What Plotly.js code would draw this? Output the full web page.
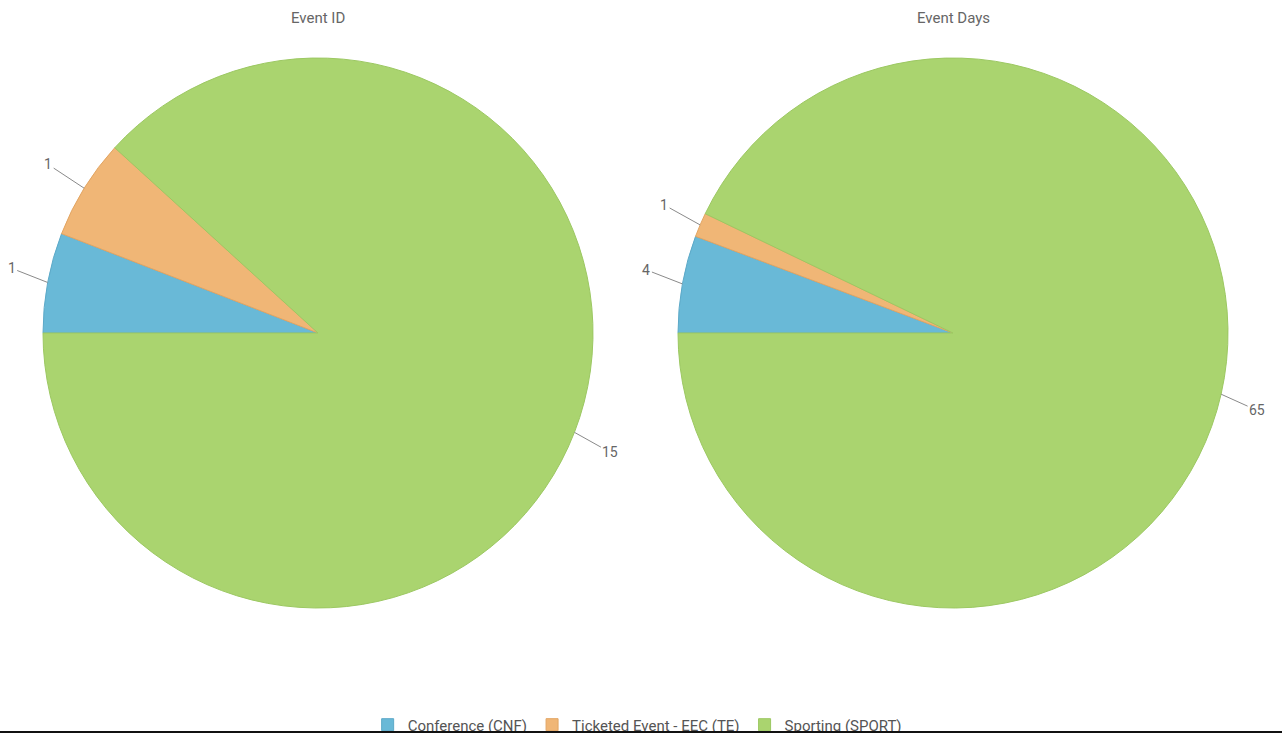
<!DOCTYPE html>
<html>
<head>
<meta charset="utf-8">
<script src="https://cdn.plot.ly/plotly-3.0.1.min.js"></script>
<style>
html,body{margin:0;padding:0;background:#fff;overflow:hidden;}
#wrap{position:relative;width:1282px;height:733px;}
#chart{width:1282px;height:733px;}
#bar{position:absolute;left:0;bottom:0;width:1282px;height:2px;background:#111;}
</style>
</head>
<body>
<div id="wrap"><div id="chart"></div><div id="bar"></div></div>
<script>
// ---- data ----
const categories = ["Conference (CNF)", "Ticketed Event - EEC (TE)", "Sporting (SPORT)"];
const eventIdValues = [1, 1, 15];
const eventDaysValues = [4, 1, 65];
const chartTitles = ["Event ID", "Event Days"];

// ---- style ----
const W = 1282, H = 733;
const colors = ["#69b9d7", "#f0b676", "#aad46f"];
const lineColors = ["#5ca9c8", "#e2a563", "#9cc862"];
const font = "Roboto, 'Open Sans', sans-serif";

// domains in pixel space -> paper
function dom(x0, x1, y0, y1) {
  return { x: [x0 / W, x1 / W], y: [1 - y1 / H, 1 - y0 / H] };
}
const domains = [dom(43, 593, 58, 608), dom(678, 1228, 58, 608)];
const seriesList = [eventIdValues, eventDaysValues];

const traces = seriesList.map((vals, i) => ({
  type: "pie",
  labels: categories,
  values: vals,
  sort: false,
  direction: "clockwise",
  rotation: -90,
  textinfo: "none",
  hoverinfo: "label+value",
  marker: { colors: colors, line: { color: lineColors, width: 1 } },
  domain: domains[i],
  title: { text: "" },
  showlegend: i === 0
}));

// labels with connector lines, computed from values and pie geometry
const annotations = [];
seriesList.forEach((vals, i) => {
  const d = domains[i];
  const cx = (d.x[0] + d.x[1]) / 2 * W;
  const cy = (1 - (d.y[0] + d.y[1]) / 2) * H;
  const r = Math.min((d.x[1] - d.x[0]) * W, (d.y[1] - d.y[0]) * H) / 2;
  const total = vals.reduce((a, b) => a + b, 0);
  let cum = 0;
  vals.forEach((v) => {
    const mid = (cum + v / 2) / total * 2 * Math.PI; // clockwise from 9 o'clock
    cum += v;
    const ang = Math.PI + mid;
    const dx = Math.cos(ang), dy = Math.sin(ang);
    const tx = cx + r * dx, ty = cy + r * dy;
    const ax = (dx >= 0 ? 1 : -1) * 36;
    const ay = dy * 28 + (dy >= 0 ? 10 : -9);
    annotations.push({
      x: tx / W, y: 1 - ty / H, xref: "paper", yref: "paper",
      ax: ax, ay: ay, text: String(v),
      showarrow: true, arrowhead: 0, arrowwidth: 1, arrowcolor: "#8a8a8a",
      standoff: 0, startstandoff: 0,
      font: { family: font, size: 14, color: "#666666" },
      xanchor: "center", yanchor: "middle"
    });
  });
  annotations.push({
    x: cx / W, y: 1 - 18 / H, xref: "paper", yref: "paper",
    text: chartTitles[i], showarrow: false,
    font: { family: font, size: 15, color: "#666666" },
    xanchor: "center", yanchor: "middle"
  });
});

const layout = {
  width: W, height: H,
  margin: { l: 0, r: 0, t: 0, b: 0, autoexpand: false },
  paper_bgcolor: "#fff",
  font: { family: font, color: "#555" },
  showlegend: true,
  legend: {
    orientation: "h", x: 0.497, xanchor: "center", y: 0.011, yanchor: "middle",
    font: { family: font, size: 15, color: "#555" },
    itemwidth: 30, traceorder: "normal"
  },
  annotations: annotations
};

Plotly.newPlot("chart", traces, layout, { displayModeBar: false, staticPlot: true });
</script>
</body>
</html>
